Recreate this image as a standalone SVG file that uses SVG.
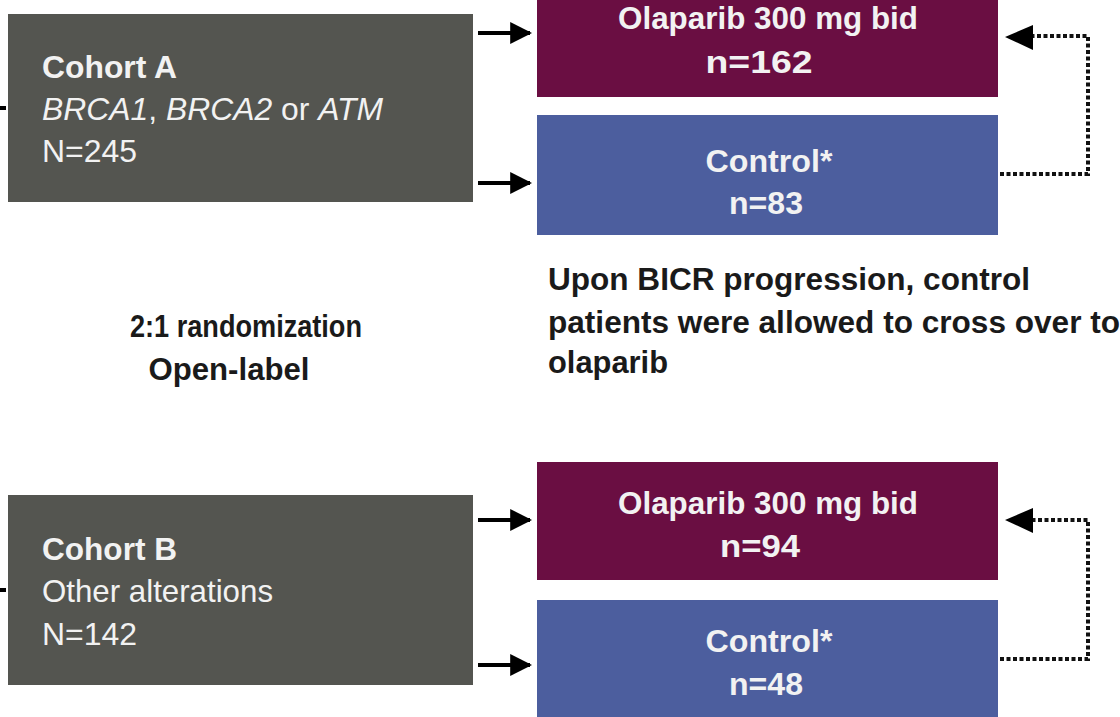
<svg xmlns="http://www.w3.org/2000/svg" width="1120" height="717" viewBox="0 0 1120 717">
<defs>
<style>
.grey{fill:#545550}
.purple{fill:#6A0E42}
.blue{fill:#4C5E9E}
.t{font-family:"Liberation Sans",Arial,sans-serif;font-size:32px;fill:#F2F2F2}
.b{font-weight:bold}
.i{font-style:italic}
.dk{font-family:"Liberation Sans",Arial,sans-serif;font-size:31px;font-weight:bold;fill:#1a1a1a}
.solid{stroke:#000;stroke-width:4;fill:none}
.dot{stroke:#111;stroke-width:4;fill:none;stroke-dasharray:4 2.5}
</style>
<marker id="ah" viewBox="0 0 10 10" refX="9" refY="5" markerWidth="5.5" markerHeight="5.5" orient="auto" markerUnits="strokeWidth">
<path d="M0,0 L10,5 L0,10 z" fill="#000"/>
</marker>
</defs>

<g id="cohortA">
<rect class="grey" x="8" y="14" width="465" height="188"/>
<text class="t b" x="42" y="78" textLength="135" lengthAdjust="spacingAndGlyphs">Cohort A</text>
<text class="t" x="42" y="120" textLength="341" lengthAdjust="spacingAndGlyphs"><tspan class="i">BRCA1</tspan>, <tspan class="i">BRCA2</tspan> or <tspan class="i">ATM</tspan></text>
<text class="t" x="42" y="162" textLength="95" lengthAdjust="spacingAndGlyphs">N=245</text>
</g>

<g id="olaparibA">
<rect class="purple" x="537" y="-6" width="461" height="103"/>
<text class="t b" x="768" y="29" text-anchor="middle" textLength="300" lengthAdjust="spacingAndGlyphs">Olaparib 300 mg bid</text>
<text class="t b" x="759" y="73" text-anchor="middle" textLength="107" lengthAdjust="spacingAndGlyphs">n=162</text>
</g>

<g id="controlA">
<rect class="blue" x="537" y="115" width="461" height="120"/>
<text class="t b" x="769" y="172" text-anchor="middle" textLength="127" lengthAdjust="spacingAndGlyphs">Control*</text>
<text class="t b" x="766" y="214" text-anchor="middle" textLength="74" lengthAdjust="spacingAndGlyphs">n=83</text>
</g>

<g id="crossoverNote">
<text class="dk" x="548" y="290" textLength="482" lengthAdjust="spacingAndGlyphs">Upon BICR progression, control</text>
<text class="dk" x="548" y="333" textLength="572" lengthAdjust="spacingAndGlyphs">patients were allowed to cross over to</text>
<text class="dk" x="548" y="373" textLength="120" lengthAdjust="spacingAndGlyphs">olaparib</text>
</g>

<g id="randomization">
<text class="dk" x="246" y="337" text-anchor="middle" textLength="232" lengthAdjust="spacingAndGlyphs">2:1 randomization</text>
<text class="dk" x="229" y="380" text-anchor="middle" textLength="161" lengthAdjust="spacingAndGlyphs">Open-label</text>
</g>

<g id="cohortB">
<rect class="grey" x="8" y="495" width="465" height="190"/>
<text class="t b" x="42" y="560" textLength="135" lengthAdjust="spacingAndGlyphs">Cohort B</text>
<text class="t" x="42" y="602" textLength="231" lengthAdjust="spacingAndGlyphs">Other alterations</text>
<text class="t" x="42" y="645" textLength="95" lengthAdjust="spacingAndGlyphs">N=142</text>
</g>

<g id="olaparibB">
<rect class="purple" x="537" y="462" width="461" height="118"/>
<text class="t b" x="768" y="514" text-anchor="middle" textLength="300" lengthAdjust="spacingAndGlyphs">Olaparib 300 mg bid</text>
<text class="t b" x="760" y="557" text-anchor="middle" textLength="80" lengthAdjust="spacingAndGlyphs">n=94</text>
</g>

<g id="controlB">
<rect class="blue" x="537" y="600" width="461" height="125"/>
<text class="t b" x="769" y="652" text-anchor="middle" textLength="127" lengthAdjust="spacingAndGlyphs">Control*</text>
<text class="t b" x="766" y="695" text-anchor="middle" textLength="74" lengthAdjust="spacingAndGlyphs">n=48</text>
</g>

<g id="connectors">
<line class="solid" x1="478" y1="33" x2="530" y2="33" marker-end="url(#ah)"/>
<line class="solid" x1="478" y1="183" x2="530" y2="183" marker-end="url(#ah)"/>
<line class="solid" x1="478" y1="520" x2="530" y2="520" marker-end="url(#ah)"/>
<line class="solid" x1="478" y1="665" x2="530" y2="665" marker-end="url(#ah)"/>
<line class="solid" x1="0" y1="108" x2="6" y2="108"/>
<line class="solid" x1="0" y1="590" x2="6" y2="590"/>
<path class="dot" d="M1000,174 H1088 V36 H1033"/>
<path d="M1005,37 L1033,25 L1033,50 z" fill="#000"/>
<path class="dot" d="M1000,659 H1088 V520 H1033"/>
<path d="M1005,520 L1033,508 L1033,533 z" fill="#000"/>
</g>
</svg>
